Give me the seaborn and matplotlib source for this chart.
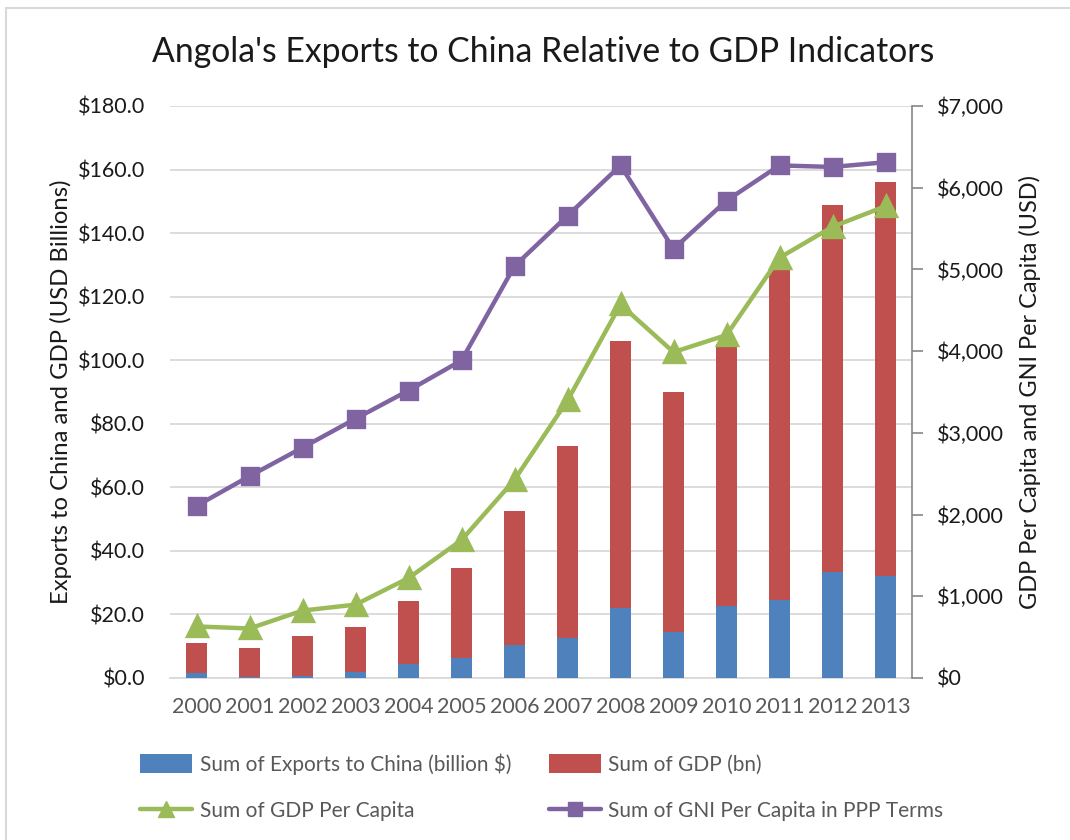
import numpy as np
import pandas as pd
import seaborn as sns
import matplotlib
matplotlib.use("Agg")
import matplotlib.pyplot as plt
from matplotlib.lines import Line2D
from matplotlib.patches import Patch, Rectangle
from matplotlib.ticker import FuncFormatter, MultipleLocator

# Angola: exports to China, GDP and per-capita indicators, 2000-2013
years = [str(y) for y in range(2000, 2014)]
exports_china = [1.5, 0.4, 0.7, 1.9, 4.4, 6.4, 10.5, 12.5, 22.1, 14.6, 22.7, 24.6, 33.3, 32.0]
gdp = [9.5, 8.9, 12.5, 14.2, 19.8, 28.2, 41.9, 60.5, 84.1, 75.5, 82.5, 104.3, 115.4, 124.0]
gdp_per_capita = [631, 606, 825, 898, 1223, 1688, 2426, 3396, 4571, 3988, 4197, 5143, 5522, 5774]
gni_ppp_per_capita = [2106, 2470, 2819, 3173, 3518, 3886, 5041, 5657, 6273, 5250, 5842, 6273, 6254, 6312]

BLUE = "#4F81BD"
RED = "#C0504D"
GREEN = "#9BBB59"
PURPLE = "#8064A2"
GRID = "#D9D9D9"
AXIS_GRAY = "#868686"
TEXT_GRAY = "#595959"

sns.set_theme(style="white")
plt.rcParams["font.family"] = ["Lato", "DejaVu Sans"]

df = pd.DataFrame({
    "year": years,
    "exports": exports_china,
    "gdp": gdp,
    "gdp_pc": gdp_per_capita,
    "gni_pc": gni_ppp_per_capita,
})
df["stack_top"] = df["exports"] + df["gdp"]

W, H = 1070, 840
fig = plt.figure(figsize=(W / 100, H / 100), dpi=100)
fig.patch.set_facecolor("white")

# chart frame
fig.add_artist(Rectangle((6 / W, -0.05), 1.2, 1 - 8 / H + 0.05, transform=fig.transFigure,
                         fill=False, edgecolor=GRID, linewidth=1.5))

ax = fig.add_axes([170 / W, 1 - 678 / H, (912 - 170) / W, (678 - 106) / H])

# stacked columns: GDP segment sits on top of exports
sns.barplot(data=df, x="year", y="stack_top", color=RED, width=0.41, ax=ax,
            saturation=1, edgecolor="none", zorder=2)
sns.barplot(data=df, x="year", y="exports", color=BLUE, width=0.41, ax=ax,
            saturation=1, edgecolor="none", zorder=3)

ax.set_ylim(0, 180)
ax.yaxis.set_major_locator(MultipleLocator(20))
ax.yaxis.set_major_formatter(FuncFormatter(lambda v, p: f"${v:.1f}"))
ax.yaxis.grid(True, color=GRID, linewidth=1.3)
ax.set_axisbelow(True)
for s in ["left", "top", "right"]:
    ax.spines[s].set_visible(False)
ax.spines["bottom"].set_color(GRID)
ax.spines["bottom"].set_linewidth(1.3)
ax.tick_params(axis="y", length=0, pad=18, labelsize=15.5, labelcolor="#1a1a1a")
ax.tick_params(axis="x", length=0, pad=14, labelsize=15.5, labelcolor=TEXT_GRAY)
ax.set_xlabel("")
ax.set_ylabel("")

ax2 = ax.twinx()
sns.pointplot(data=df, x="year", y="gni_pc", color=PURPLE, markers="s", ax=ax2,
              linewidth=3.2, markersize=11, zorder=4)
sns.pointplot(data=df, x="year", y="gdp_pc", color=GREEN, markers="^", ax=ax2,
              linewidth=3.2, markersize=14, zorder=5)
ax2.set_ylim(0, 7000)
ax2.set_xlim(-0.5, len(years) - 0.5)
ax.set_xlim(-0.5, len(years) - 0.5)
ax2.yaxis.set_major_locator(MultipleLocator(1000))
ax2.yaxis.set_major_formatter(FuncFormatter(lambda v, p: f"${v:,.0f}"))
for s in ["left", "top", "bottom"]:
    ax2.spines[s].set_visible(False)
ax2.spines["right"].set_visible(True)
ax2.spines["right"].set_color(AXIS_GRAY)
ax2.spines["right"].set_linewidth(1.2)
ax2.tick_params(axis="y", direction="out", length=8, width=1.2, color=AXIS_GRAY,
                pad=10, labelsize=15.5, labelcolor="#1a1a1a", right=True)
ax2.set_xlabel("")
ax2.set_ylabel("")
ax2.grid(False)

fig.text(543 / W, 1 - 52 / H, "Angola's Exports to China Relative to GDP Indicators",
         ha="center", va="center", fontsize=24.3, color="#1a1a1a")
fig.text(61 / W, 1 - 392 / H, "Exports to China and GDP (USD Billions)",
         rotation=90, ha="center", va="center", fontsize=17.2, color="#1a1a1a")
fig.text(1030 / W, 1 - 392 / H, "GDP Per Capita and GNI Per Capita (USD)",
         rotation=90, ha="center", va="center", fontsize=16.9, color="#1a1a1a")

handles = [
    Patch(facecolor=BLUE, edgecolor="none", label="Sum of Exports to China (billion $)"),
    Line2D([], [], color=GREEN, lw=3.2, marker="^", markersize=11, label="Sum of GDP Per Capita"),
    Patch(facecolor=RED, edgecolor="none", label="Sum of GDP (bn)"),
    Line2D([], [], color=PURPLE, lw=3.2, marker="s", markersize=10, label="Sum of GNI Per Capita in PPP Terms"),
]
leg = fig.legend(handles=handles, ncol=2, loc="upper left",
                 bbox_to_anchor=(132 / W, 1 - 745 / H), frameon=False,
                 fontsize=15, handlelength=2.5, handleheight=1.0, handletextpad=0.35,
                 columnspacing=1.8, labelspacing=1.25, borderaxespad=0)
for t in leg.get_texts():
    t.set_color(TEXT_GRAY)

fig.savefig("out.png", dpi=100, facecolor="white")
